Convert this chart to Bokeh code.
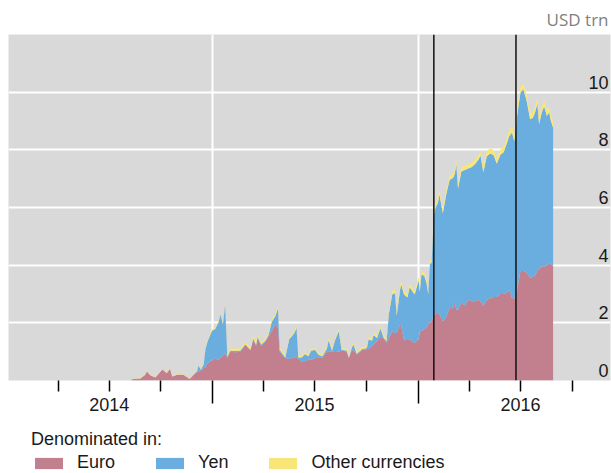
import pandas as pd
from bokeh.plotting import figure
from bokeh.layouts import column
from bokeh.models import ColumnDataSource, FixedTicker, Span, Legend, Title, Range1d
from bokeh.core.properties import value
from bokeh.embed import file_html
from bokeh.resources import INLINE

dates = [
    "2014-08-08", "2014-08-12", "2014-08-25", "2014-09-03", "2014-09-06", "2014-09-12", "2014-09-21", "2014-09-30",
    "2014-10-04", "2014-10-11", "2014-10-17", "2014-10-21", "2014-10-30", "2014-11-10", "2014-11-21", "2014-11-28",
    "2014-12-04", "2014-12-07", "2014-12-11", "2014-12-16", "2014-12-19", "2014-12-23", "2014-12-31", "2015-01-05",
    "2015-01-11", "2015-01-15", "2015-01-19", "2015-01-23", "2015-01-27",
    "2015-02-01", "2015-02-10", "2015-02-19", "2015-02-28", "2015-03-09", "2015-03-14", "2015-03-19", "2015-03-22",
    "2015-03-28", "2015-04-04", "2015-04-10", "2015-04-16", "2015-04-22", "2015-04-27", "2015-04-30",
    "2015-05-04", "2015-05-10", "2015-05-17", "2015-05-22", "2015-05-26", "2015-05-30", "2015-06-02", "2015-06-08",
    "2015-06-14", "2015-06-20", "2015-06-25", "2015-07-02", "2015-07-08", "2015-07-15", "2015-07-23", "2015-07-26",
    "2015-08-01", "2015-08-07", "2015-08-13", "2015-08-18", "2015-08-27", "2015-08-31", "2015-09-05", "2015-09-08",
    "2015-09-14", "2015-09-23", "2015-10-02", "2015-10-05", "2015-10-11", "2015-10-14", "2015-10-20", "2015-10-26",
    "2015-11-01", "2015-11-06", "2015-11-10", "2015-11-16", "2015-11-21", "2015-11-24", "2015-11-30", "2015-12-02",
    "2015-12-07", "2015-12-13", "2015-12-17", "2015-12-26", "2016-01-02", "2016-01-04", "2016-01-07", "2016-01-12",
    "2016-01-16", "2016-01-19", "2016-01-22", "2016-01-25", "2016-01-29",
    "2016-02-01", "2016-02-05", "2016-02-08", "2016-02-14", "2016-02-20", "2016-02-26", "2016-03-03", "2016-03-06",
    "2016-03-09", "2016-03-12", "2016-03-18", "2016-03-24", "2016-03-30", "2016-04-05", "2016-04-11", "2016-04-17",
    "2016-04-21", "2016-04-26",
    "2016-05-02", "2016-05-08", "2016-05-14", "2016-05-20", "2016-05-26", "2016-06-01", "2016-06-07", "2016-06-11",
    "2016-06-16", "2016-06-20", "2016-06-25", "2016-07-01", "2016-07-06", "2016-07-12", "2016-07-18", "2016-07-23",
    "2016-07-27", "2016-07-31",
    "2016-08-03", "2016-08-08", "2016-08-12", "2016-08-17", "2016-08-21", "2016-08-24", "2016-08-28",
]

euro = [
    0.00, 0.05, 0.06, 0.20, 0.31, 0.18, 0.10, 0.30, 0.38, 0.25, 0.40, 0.14, 0.20, 0.20, 0.05, 0.20,
    0.30, 0.30, 0.35, 0.43, 0.45, 0.60, 0.70, 0.78, 0.70, 0.80, 0.85, 0.95, 0.78,
    1.00, 0.98, 1.00, 1.24, 1.05, 1.42, 1.20, 1.47, 1.20, 1.33, 1.53, 1.71, 1.94, 1.83, 1.00,
    0.90, 0.78, 0.75, 0.78, 0.80, 0.82, 0.75, 0.67, 0.67, 0.72, 0.72, 0.78, 0.78, 0.80, 1.00, 1.00,
    1.00, 1.02, 1.00, 1.05, 1.00, 0.78, 1.05, 1.05, 0.90, 1.05, 1.08, 1.10, 1.20, 1.25, 1.36, 1.52,
    1.45, 1.30, 1.45, 1.70, 1.65, 1.65, 1.95, 1.90, 1.39, 1.45, 1.42, 1.30, 1.45, 1.70, 1.72, 1.78,
    1.85, 1.95, 2.00, 2.05, 2.30,
    2.30, 2.35, 2.30, 2.05, 2.20, 2.52, 2.50, 2.70, 2.45, 2.45, 2.70, 2.60, 2.80, 2.75, 2.75, 2.80,
    2.75, 2.58,
    2.80, 2.85, 2.90, 2.90, 3.00, 3.00, 3.05, 3.15, 2.85, 2.85, 3.15, 3.80, 3.80, 3.75, 3.56, 3.60,
    3.65, 3.80,
    3.85, 3.97, 3.95, 4.00, 4.05, 4.05, 3.97,
]

yen = [
    0.00, 0.00, 0.00, 0.00, 0.00, 0.00, 0.00, 0.00, 0.00, 0.00, 0.00, 0.00, 0.00, 0.00, 0.00, 0.00,
    0.02, 0.22, 0.02, 0.13, 0.63, 0.77, 1.03, 1.00, 1.30, 1.50, 1.10, 1.65, 0.04,
    0.04, 0.04, 0.04, 0.02, 0.02, 0.04, 0.05, 0.05, 0.05, 0.04, 0.04, 0.33, 0.28, 0.67, 0.07,
    0.05, 0.02, 0.69, 0.76, 0.85, 1.00, 0.05, 0.13, 0.25, 0.12, 0.32, 0.28, 0.11, 0.04, 0.11, 0.40,
    0.03, 0.41, 0.71, 0.02, 0.04, 0.01, 0.08, 0.21, 0.03, 0.03, 0.05, 0.33, 0.18, 0.33, 0.11, 0.29,
    0.03, 0.07, 0.85, 1.28, 1.38, 0.60, 1.20, 1.43, 1.59, 1.43, 1.81, 1.68, 2.03, 1.38, 1.96, 1.85,
    1.53, 1.05, 2.03, 2.03, 3.45,
    3.70, 3.80, 4.15, 3.75, 4.25, 4.43, 4.52, 4.45, 5.03, 4.20, 4.55, 4.70, 4.55, 4.65, 4.75, 4.85,
    5.05, 4.64,
    4.97, 5.02, 4.92, 4.62, 4.82, 4.92, 5.19, 5.33, 5.75, 5.45, 6.02, 6.19, 6.30, 5.95, 5.50, 5.50,
    5.65, 5.80,
    5.05, 5.33, 5.55, 5.17, 5.25, 4.95, 4.80,
]

other = [
    0.00, 0.01, 0.01, 0.02, 0.02, 0.02, 0.02, 0.02, 0.02, 0.02, 0.02, 0.02, 0.02, 0.02, 0.01, 0.02,
    0.03, 0.03, 0.03, 0.04, 0.05, 0.05, 0.05, 0.05, 0.05, 0.05, 0.05, 0.05, 0.08,
    0.08, 0.08, 0.08, 0.07, 0.08, 0.08, 0.08, 0.08, 0.08, 0.08, 0.08, 0.08, 0.08, 0.08, 0.08,
    0.08, 0.06, 0.06, 0.06, 0.06, 0.06, 0.06, 0.06, 0.06, 0.06, 0.06, 0.06, 0.06, 0.06, 0.07, 0.07,
    0.05, 0.07, 0.07, 0.05, 0.06, 0.03, 0.07, 0.07, 0.07, 0.07, 0.07, 0.07, 0.07, 0.08, 0.08, 0.08,
    0.07, 0.08, 0.10, 0.12, 0.12, 0.10, 0.12, 0.12, 0.12, 0.12, 0.12, 0.12, 0.12, 0.12, 0.12, 0.12,
    0.12, 0.10, 0.12, 0.12, 0.15,
    0.15, 0.15, 0.15, 0.15, 0.15, 0.15, 0.15, 0.15, 0.15, 0.15, 0.15, 0.15, 0.15, 0.15, 0.15, 0.15,
    0.18, 0.18,
    0.18, 0.18, 0.18, 0.18, 0.18, 0.18, 0.20, 0.20, 0.20, 0.20, 0.20, 0.20, 0.20, 0.20, 0.20, 0.20,
    0.20, 0.20,
    0.20, 0.20, 0.20, 0.20, 0.20, 0.20, 0.20,
]

series_names = ["Euro", "Yen", "Other currencies"]
series_colors = ["#C27F8D", "#6AADDF", "#F9E679"]

y_ticks = [0, 2, 4, 6, 8, 10]
y_tick_labels = ["0", "2", "4", "6", "8", "10"]

quarter_ticks = ["2014-04-01", "2014-07-01", "2014-10-01", "2015-04-01", "2015-07-01",
                 "2015-10-01", "2016-04-01", "2016-07-01", "2016-10-01"]
year_ticks = ["2015-01-01", "2016-01-01"]
year_label_dates = ["2014-07-01", "2015-07-01", "2016-07-01"]
year_labels = ["2014", "2015", "2016"]

event_dates = ["2016-01-29", "2016-06-23"]

x_start, x_end = "2014-01-03", "2016-12-08"

FONT = "Liberation Sans"
TXT = "#1a1a1a"


def ms(d):
    return int(pd.Timestamp(d).timestamp() * 1000)


src = ColumnDataSource(dict(date=pd.to_datetime(dates), euro=euro, yen=yen, other=other))

# ---------------- main chart ----------------
p = figure(width=611, height=425, x_axis_type="datetime",
           x_range=Range1d(pd.Timestamp(x_start), pd.Timestamp(x_end)),
           y_range=Range1d(0, 12),
           output_backend="svg", toolbar_location=None,
           min_border_left=8, min_border_right=1, min_border_top=34, min_border_bottom=45,
           background_fill_color="#D9D9D9", border_fill_color="white",
           outline_line_color=None)

rs = p.varea_stack(["euro", "yen", "other"], x="date", source=src, color=series_colors)

p.ygrid.ticker = FixedTicker(ticks=y_ticks)
p.xgrid.ticker = FixedTicker(ticks=[ms(d) for d in year_ticks])
for g in (p.xgrid, p.ygrid):
    g.grid_line_color = "white"
    g.grid_line_width = 2
p.yaxis.visible = False

for d in event_dates:
    p.add_layout(Span(location=ms(d), dimension="height", line_color="#111111", line_width=1.5))

lab_src = ColumnDataSource(dict(x=[pd.Timestamp(x_end)] * len(y_ticks), y=y_ticks, t=y_tick_labels))
p.text(x="x", y="y", text="t", source=lab_src, text_align="right", text_baseline="alphabetic",
       x_offset=-2, y_offset=-10, text_font=value(FONT), text_font_size="18px", text_color=TXT)

xa = p.xaxis[0]
xa.ticker = FixedTicker(ticks=[ms(d) for d in quarter_ticks], minor_ticks=[ms(d) for d in year_ticks])
overrides = {ms(d): "" for d in quarter_ticks}
for d, lab in zip(year_label_dates, year_labels):
    overrides[ms(d)] = lab
xa.major_label_overrides = overrides
xa.axis_line_color = None
xa.major_tick_in = 0
xa.major_tick_out = 11
xa.minor_tick_in = 0
xa.minor_tick_out = 23
xa.major_tick_line_color = "black"
xa.minor_tick_line_color = "black"
xa.major_tick_line_width = 1.5
xa.minor_tick_line_width = 1.5
xa.major_label_standoff = -6
xa.major_label_text_font = FONT
xa.major_label_text_font_size = "18px"
xa.major_label_text_color = TXT

p.add_layout(Title(text="USD trn", align="right", text_font="Open Sans", text_font_size="17px",
                   text_color="#7F7F7F", text_font_style="normal", standoff=8, offset=2), "above")

# ---------------- legend strip ----------------
leg = figure(width=611, height=48, x_range=Range1d(0, 1), y_range=Range1d(0, 1),
             output_backend="svg", toolbar_location=None,
             x_axis_location=None, y_axis_location=None,
             min_border_left=0, min_border_right=0, min_border_top=0, min_border_bottom=0,
             background_fill_color="white", border_fill_color="white", outline_line_color=None)
leg.grid.visible = False
# zero-height areas: they only serve as legend keys
leg_renderers = [leg.varea(x=[-2, -1], y1=[-1, -1], y2=[-1, -1], color=c) for c in series_colors]

legend = Legend(items=[(n, [r]) for n, r in zip(series_names, leg_renderers)],
                orientation="horizontal", title="Denominated in:",
                location=(23, 0), margin=0, padding=0,
                glyph_width=35, glyph_height=14, label_standoff=11, spacing=37,
                title_standoff=2,
                title_text_font=FONT, title_text_font_size="18px",
                title_text_font_style="normal", title_text_color=TXT,
                label_text_font=FONT, label_text_font_size="18px",
                label_text_color=TXT,
                border_line_color=None, background_fill_alpha=0)
leg.add_layout(legend)

open("out.html", "w").write(file_html(column(p, leg, spacing=0), INLINE))
